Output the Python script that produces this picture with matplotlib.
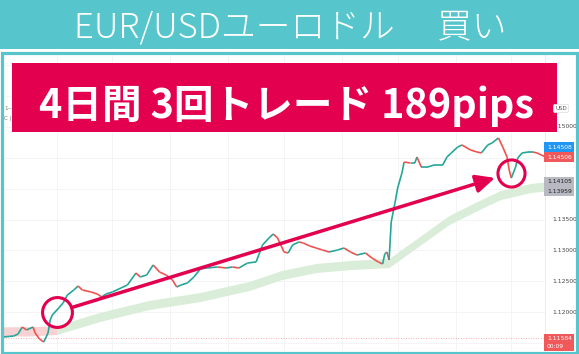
import matplotlib
matplotlib.use("Agg")
from matplotlib import pyplot as plt
from matplotlib.patches import Rectangle
from matplotlib.collections import LineCollection

# ---- data ----
# 30-minute bar index and close price
bars = [0, 5, 7, 9, 11, 14, 15, 17, 19, 21, 22, 23, 26, 28, 30, 33, 35, 37, 41, 44,
        46, 48, 51, 55, 58, 62, 64, 67, 70, 73, 76, 79, 81, 83, 86, 89, 92, 95, 100, 104,
        107, 110, 114, 118, 121, 124, 126, 128, 131, 133, 135, 138, 140, 143, 146, 149, 152, 156, 159, 162,
        165, 169, 172, 175, 177, 178, 179, 180, 181, 183, 184, 186, 187, 190, 192, 193, 195, 198, 201, 205,
        207, 209, 212, 214, 218, 221, 223, 226, 228, 231, 233, 235, 236, 237, 239, 240, 242, 245, 247, 249,
        253]
closes = [1.11605, 1.11621, 1.11653, 1.11766, 1.11718, 1.11766, 1.11669, 1.11573, 1.11524, 1.11669,
          1.11879, 1.11960, 1.12073, 1.12153, 1.12282, 1.12363, 1.12427, 1.12363, 1.12331, 1.12298,
          1.12250, 1.12298, 1.12331, 1.12395, 1.12444, 1.12637, 1.12573, 1.12605, 1.12766, 1.12653,
          1.12605, 1.12524, 1.12411, 1.12444, 1.12476, 1.12573, 1.12702, 1.12718, 1.12734, 1.12718,
          1.12734, 1.12718, 1.12798, 1.12815, 1.13089, 1.13202, 1.13266, 1.13202, 1.12976, 1.12960,
          1.13089, 1.13137, 1.13121, 1.13073, 1.13040, 1.13008, 1.12976, 1.13008, 1.13040, 1.12976,
          1.12927, 1.12960, 1.12879, 1.12815, 1.12783, 1.12944, 1.12976, 1.12847, 1.13460, 1.13815,
          1.14008, 1.14250, 1.14427, 1.14411, 1.14411, 1.14508, 1.14347, 1.14347, 1.14379, 1.14379,
          1.14508, 1.14573, 1.14669, 1.14702, 1.14621, 1.14589, 1.14573, 1.14702, 1.14734, 1.14815,
          1.14669, 1.14508, 1.14298, 1.14169, 1.14347, 1.14492, 1.14573, 1.14589, 1.14589, 1.14573,
          1.14506]

# moving-average band (upper / lower edge)
band_bars = [0, 12, 25, 45, 68, 92, 115, 130, 146, 162, 180, 193, 208, 224, 232, 246, 253]
band_hi = [1.11770, 1.11770, 1.11791, 1.12000, 1.12194, 1.12323, 1.12503, 1.12678, 1.12791,
           1.12839, 1.12871, 1.13194, 1.13565, 1.13839, 1.13968, 1.14081, 1.14105]
band_lo = [1.11620, 1.11620, 1.11645, 1.11854, 1.12048, 1.12177, 1.12357, 1.12532, 1.12645,
           1.12693, 1.12725, 1.13048, 1.13419, 1.13693, 1.13822, 1.13935, 1.13959]
band_cross = 25  # red before, green after

entry = (25.2, 1.12008)
exit_ = (236.8, 1.14250)

grid_prices = [1.115, 1.120, 1.125, 1.130, 1.135, 1.140, 1.145, 1.150, 1.155, 1.160]
axis_labels = [1.120, 1.125, 1.130, 1.135, 1.150]
grid_bars = [25, 51, 78, 105, 131, 158, 184, 211, 237]

title = "EUR/USDユーロドル\u3000 買い"
banner = "4日間 3回トレード 189pips"

teal = "#56C6CC"
crimson = "#E2004F"
up_c = "#26A69A"
dn_c = "#EF5350"

W, H = 579, 354
plt.rcParams['font.family'] = ['Noto Sans CJK JP', 'DejaVu Sans']

fig = plt.figure(figsize=(W / 100, H / 100), dpi=100)
fig.patch.set_facecolor("white")

# ---- chart ----
ax = fig.add_axes([3 / W, 1 - 351 / H, 542 / W, 297 / H], zorder=1)
ax.set_xlim(0, 252.7)
ax.set_ylim(1.113790, 1.161694)
ax.set_xticks([])
ax.set_yticks([])
for s in ["top", "left", "bottom"]:
    ax.spines[s].set_visible(False)
ax.spines["right"].set_color("#E6E8EE")
ax.spines["right"].set_linewidth(0.6)

for p in grid_prices:
    ax.axhline(p, color="#F2F3F6", lw=0.6, zorder=0)
for g in grid_bars:
    ax.axvline(g, color="#F2F3F6", lw=0.6, zorder=0)

# MA band
red_n = band_bars.index(band_cross) + 1
ax.fill_between(band_bars[:red_n], band_hi[:red_n], band_lo[:red_n],
                color="#F8D2D2", lw=0, zorder=1)
ax.fill_between(band_bars[red_n - 1:], band_hi[red_n - 1:], band_lo[red_n - 1:],
                color="#D9EDD9", lw=0, zorder=1)

# last price dotted line
ax.axhline(1.11584, color=dn_c, lw=0.6, ls=(0, (1, 2)), alpha=0.6, zorder=1)

# price path drawn as candle-coloured segments
segs = []
cols = []
for i in range(1, len(bars)):
    segs.append([(bars[i - 1], closes[i - 1]), (bars[i], closes[i])])
    cols.append(up_c if closes[i] >= closes[i - 1] else dn_c)
ax.add_collection(LineCollection(segs, colors=cols, linewidths=1.2, zorder=3))

# entry / exit circles and arrow
for (bx, py), ms in [(entry, 21.5), (exit_, 19.5)]:
    ax.plot(bx, py, marker="o", ms=ms, mfc="none", mec=crimson, mew=2.2, zorder=5)
ax.annotate("", xy=exit_, xytext=entry,
            arrowprops=dict(arrowstyle="-|>,head_length=0.95,head_width=0.45",
                            color=crimson, lw=2.5, shrinkA=11, shrinkB=12,
                            mutation_scale=12),
            zorder=5)

# right price scale
tr = ax.get_yaxis_transform()
for p in axis_labels:
    ax.text(1.013, p, f"{p:.5f}", transform=tr, fontsize=4.3, color="#444444",
            va="center", ha="left", family="DejaVu Sans", clip_on=False)


def tag(price, text, fc, tc, dy=0, extra=None):
    ax.annotate(text if extra is None else text + "\n" + extra,
                xy=(1.0, price), xycoords=tr, xytext=(1.3, dy),
                textcoords="offset points", fontsize=4.3, color=tc,
                family="DejaVu Sans", va="center", ha="left", linespacing=1.6,
                bbox=dict(boxstyle="square,pad=0.45", fc=fc, ec="none"),
                annotation_clip=False, zorder=6)


tag(1.14508, "1.14508", "#2196F3", "white", dy=7.2)
tag(1.14506, "1.14506", "#F0585A", "white")
tag(1.14105, "1.14105", "#B7BAC2", "#222222")
tag(1.13959, "1.13959", "#B7BAC2", "#222222")
tag(1.11584, "1.11584", "#F0585A", "white", dy=-3, extra="00:09")

# ---- overlay: header, frame, banner ----
ov = fig.add_axes([0, 0, 1, 1], zorder=5)
ov.set_xlim(0, W)
ov.set_ylim(H, 0)
ov.axis("off")
ov.patch.set_alpha(0)

ov.add_patch(Rectangle((0, 0), W, 49, color=teal, lw=0))
ov.add_patch(Rectangle((2, 53), W - 4, H - 54.5, fill=False, ec=teal, lw=2.3))
ov.text(290, 37.5, title, fontsize=25, color="white", ha="center", va="baseline",
        fontweight="light")

ov.text(4, 110, "1\u2014", fontsize=4, color="#777777", family="DejaVu Sans")
ov.text(4, 120, "C (", fontsize=4, color="#777777", family="DejaVu Sans")
ov.text(561, 110, "USD", fontsize=4, color="#555555", family="DejaVu Sans", ha="center",
        bbox=dict(boxstyle="round,pad=0.3", fc="white", ec="#DDDDDD", lw=0.5))

ov.add_patch(Rectangle((12, 63), 545, 69, color=crimson, lw=0))
ov.text(286, 118, banner, fontsize=28.5, color="white", ha="center", va="baseline",
        fontweight="bold")

fig.savefig("out.png", dpi=100, facecolor="white")
